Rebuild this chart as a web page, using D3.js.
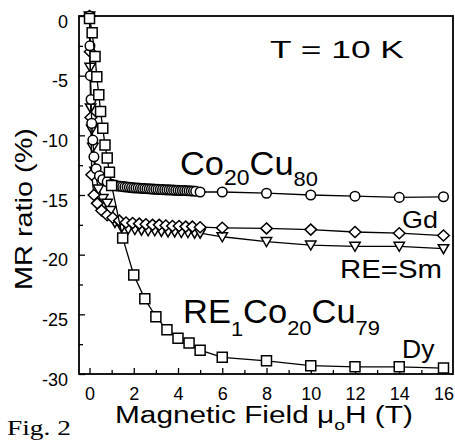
<!DOCTYPE html>
<html>
<head>
<meta charset="utf-8">
<script src="https://cdn.jsdelivr.net/npm/d3@7"></script>
<style>
  body { margin: 0; background: #fff; }
  svg { display: block; }
</style>
</head>
<body>
<div id="chart"></div>
<script>
// MR ratio (%) vs magnetic field (T)
const coField = [0, 0.02, 0.04, 0.07, 0.1, 0.15, 0.2, 0.3, 0.45, 0.6, 0.8, 1.0,
  1.1, 1.2, 1.3, 1.4, 1.5, 1.6, 1.7, 1.8, 1.9, 2.0, 2.1, 2.2, 2.3, 2.4, 2.5, 2.6, 2.7, 2.8, 2.9,
  3.0, 3.1, 3.2, 3.3, 3.4, 3.5, 3.6, 3.7, 3.8, 3.9, 4.0, 4.1, 4.2, 4.3, 4.4, 4.5, 4.6, 4.7, 4.8,
  5, 6, 8, 10, 12, 14, 16];
const coMR = [0, -2.5, -5, -7, -9, -10.4, -11.8, -12.8, -13.4, -13.7, -13.9, -14.1,
  -14.2, -14.22, -14.25, -14.27, -14.3, -14.32, -14.33, -14.36, -14.38, -14.4, -14.41, -14.42, -14.44, -14.45, -14.46, -14.47, -14.48, -14.5, -14.51,
  -14.52, -14.53, -14.54, -14.55, -14.56, -14.57, -14.57, -14.58, -14.59, -14.6, -14.61, -14.62, -14.62, -14.63, -14.64, -14.65, -14.66, -14.67, -14.68,
  -14.75, -14.75, -14.85, -15.0, -15.1, -15.2, -15.15];

const gdField = [0, 0.03, 0.06, 0.1, 0.2, 0.35, 0.55, 0.8, 1.05, 1.35, 1.65, 1.95, 2.25, 2.55,
  2.85, 3.15, 3.45, 3.75, 4.05, 4.35, 4.65, 5, 6, 8, 10, 12, 14, 16];
const gdMR = [0, -3.0, -8.5, -13.3, -15.0, -15.7, -16.3, -16.7, -16.9, -17.15, -17.3, -17.35, -17.4, -17.45,
  -17.5, -17.5, -17.55, -17.6, -17.6, -17.65, -17.65, -17.7, -17.75, -17.8, -17.9, -18.1, -18.2, -18.4];

const smField = [0, 0.03, 0.05, 0.1, 0.15, 0.25, 0.4, 0.6, 0.8, 0.95, 1.15, 1.45, 1.75, 2.05, 2.35,
  2.65, 2.95, 3.25, 3.55, 3.85, 4.15, 4.45, 4.75, 5, 6, 8, 10, 12, 14, 16];
const smMR = [0, -4.3, -7.7, -9.5, -11.0, -13.0, -14.5, -15.3, -15.7, -16.3, -17.3, -17.7, -17.85, -17.9, -17.95,
  -18.0, -18.0, -18.05, -18.1, -18.1, -18.15, -18.15, -18.2, -18.2, -18.5, -18.9, -19.2, -19.3, -19.3, -19.5];

const dyField = [0, 0.12, 0.25, 0.33, 0.42, 0.5, 0.6, 0.7, 0.8, 0.9, 1.0, 1.5, 2, 2.5, 3, 3.5, 4, 4.5,
  5, 6, 8, 10, 12, 14, 16];
const dyMR = [-0.2, -1.4, -3.4, -5.1, -6.6, -8.0, -9.4, -10.8, -11.9, -13.1, -14.2, -18.6, -21.7, -23.7, -25.2, -26.3, -27.0, -27.4,
  -28.0, -28.6, -28.9, -29.3, -29.4, -29.4, -29.5];

const xMajor = [0, 2, 4, 6, 8, 10, 12, 14, 16];
const xMinor = [1, 3, 5, 7, 9, 11, 13, 15];
const yMajor = [0, -5, -10, -15, -20, -25, -30];
const yMinor = [-2.5, -7.5, -12.5, -17.5, -22.5, -27.5];

const width = 455, height = 441;
const FONT = "'Liberation Sans', Arial, Helvetica, sans-serif";

const x = d3.scaleLinear().domain([-0.475, 16.43]).range([79, 453]);
const y = d3.scaleLinear().domain([0, -30]).range([16, 374]);

const svg = d3.select("#chart").append("svg")
  .attr("width", width)
  .attr("height", height)
  .style("font-family", FONT);

svg.append("rect").attr("width", width).attr("height", height).attr("fill", "#fff");

// axes, ticks point inward; plain hyphen for negatives like the figure
const plotBottom = y.range()[1], plotLeft = x.range()[0];
const gx = svg.append("g").attr("transform", `translate(0,${plotBottom})`);
gx.call(d3.axisBottom(x).tickValues(xMajor).tickSize(-6).tickPadding(13).tickFormat(d => String(d)));
gx.append("g").call(d3.axisBottom(x).tickValues(xMinor).tickSize(-4).tickFormat(""));
const gy = svg.append("g").attr("transform", `translate(${plotLeft},0)`);
gy.call(d3.axisLeft(y).tickValues(yMajor).tickSize(-6).tickPadding(11).tickFormat(d => String(d)));
gy.append("g").call(d3.axisLeft(y).tickValues(yMinor).tickSize(-4).tickFormat(""));
svg.selectAll(".domain").remove();
svg.selectAll(".tick line").attr("stroke", "#000").attr("stroke-width", 1.3);
svg.selectAll(".tick text").attr("fill", "#000").style("font-size", "18px").style("font-family", FONT);
gy.selectAll(".tick text").attr("dy", "0.62em");

// frame
svg.append("rect")
  .attr("x", x.range()[0]).attr("y", y.range()[0])
  .attr("width", x.range()[1] - x.range()[0])
  .attr("height", y.range()[1] - y.range()[0])
  .attr("fill", "none").attr("stroke", "#000").attr("stroke-width", 1.8);

// marker shapes
const shapes = {
  square: "M-5,-5h10v10h-10z",
  diamond: "M0,-5.5L5.8,0L0,5.5L-5.8,0Z",
  triangle: "M-5.2,-4L5.2,-4L0,5Z",
  circle: d3.symbol(d3.symbolCircle, 72)()
};

function drawSeries(field, mr, shape) {
  const pts = field.map((f, i) => [f, mr[i]]);
  const g = svg.append("g");
  g.append("path")
    .attr("d", d3.line().x(d => x(d[0])).y(d => y(d[1]))(pts))
    .attr("fill", "none").attr("stroke", "#000").attr("stroke-width", 1.3);
  g.selectAll("path.m")
    .data(pts)
    .enter().append("path")
    .attr("class", "m")
    .attr("d", shapes[shape])
    .attr("transform", d => `translate(${x(d[0])},${y(d[1])})`)
    .attr("fill", "#fff").attr("stroke", "#000").attr("stroke-width", 1.5);
}

drawSeries(smField, smMR, "triangle");
drawSeries(gdField, gdMR, "diamond");
drawSeries(coField, coMR, "circle");
drawSeries(dyField, dyMR, "square");

// text with sub-scripts, stretched to the width it has in the figure
function label(parts, px, py, w, size, opt) {
  opt = opt || {};
  const g = svg.append("g");
  const t = g.append("text")
    .attr("font-size", size)
    .attr("text-anchor", opt.anchor || "start")
    .style("font-family", opt.font || FONT)
    .attr("fill", "#000");
  let shift = 0;
  parts.forEach(p => {
    const s = t.append("tspan").text(p[0]);
    const want = p[1] ? p[1] : 0;
    if (want !== shift) { s.attr("dy", want - shift); shift = want; }
    if (p[2]) s.attr("font-size", p[2]);
  });
  const bw = t.node().getBBox().width;
  const sx = w / bw;
  g.attr("transform", `translate(${px},${py}) rotate(${opt.rotate || 0}) scale(${sx},1)`);
}

label([["T = 10 K"]], 270, 58, 135, 23);
label([["Co"], ["20", 10, 22], ["Cu", 0], ["80", 11, 21]], 180, 175, 138, 33);
label([["RE"], ["1", 13, 21], ["Co", 0], ["20", 12, 21], ["Cu", 0], ["79", 12, 21]], 183, 323, 197, 33);
label([["Gd"]], 402, 228, 36, 23);
label([["RE=Sm"]], 340, 278, 102, 25);
label([["Dy"]], 402, 358, 33, 25);
label([["Magnetic Field μ"], ["o", 7, 15], ["H (T)", 0]], 115, 423, 298, 23);
label([["MR ratio (%)"]], 32, 209, 162, 23, { anchor: "middle", rotate: -90 });
label([["Fig. 2"]], 7, 435, 64, 20, { font: "'Liberation Serif', 'Times New Roman', serif" });
</script>
</body>
</html>
